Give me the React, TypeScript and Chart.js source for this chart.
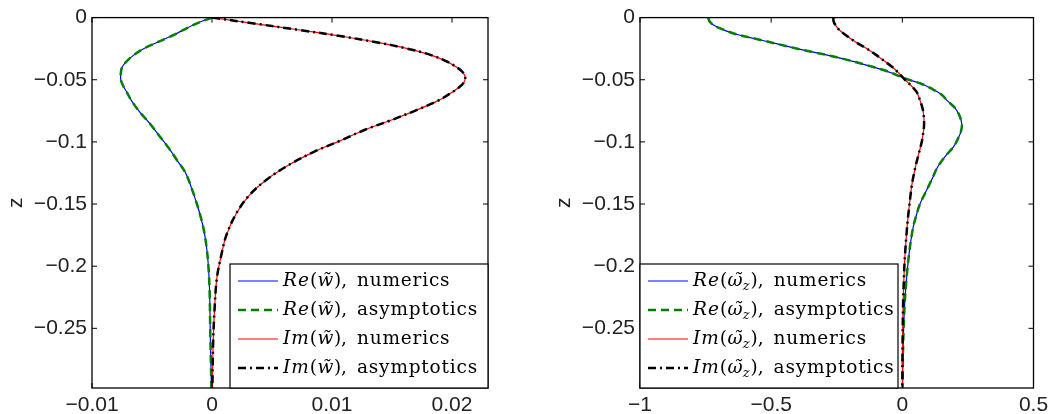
import React, { useEffect, useRef } from 'react';
import { Chart, registerables } from 'chart.js';

Chart.register(...registerables);

// ---------- Left panel: w~ ----------
const Z_W_RE = [0, -0.004, -0.009, -0.014, -0.02, -0.025, -0.03, -0.035, -0.04, -0.045, -0.05, -0.055, -0.06, -0.067, -0.075, -0.085, -0.095, -0.105, -0.115, -0.125, -0.14, -0.155, -0.17, -0.185, -0.2, -0.22, -0.25, -0.275, -0.298];
const W_RE = [0, -0.0011, -0.0022, -0.0032, -0.0046, -0.0057, -0.0065, -0.0071, -0.0075, -0.0076, -0.0076, -0.0074, -0.0071, -0.0067, -0.0061, -0.0052, -0.0044, -0.0036, -0.0029, -0.0022, -0.0016, -0.0011, -0.0007, -0.00045, -0.0003, -0.0002, -0.00015, -0.0001, -0.00005];
const Z_W_IM = [0, -0.005, -0.01, -0.015, -0.02, -0.025, -0.03, -0.035, -0.04, -0.044, -0.048, -0.052, -0.056, -0.062, -0.067, -0.075, -0.083, -0.09, -0.099, -0.108, -0.118, -0.13, -0.143, -0.158, -0.175, -0.19, -0.21, -0.237, -0.26, -0.298];
const W_IM = [0, 0.0037, 0.0073, 0.0108, 0.0138, 0.0163, 0.0182, 0.0195, 0.0204, 0.0209, 0.0211, 0.021, 0.0206, 0.0197, 0.0188, 0.0169, 0.0148, 0.0128, 0.0107, 0.0085, 0.0065, 0.0046, 0.0031, 0.002, 0.0012, 0.0008, 0.0004, 0.0002, 0.0001, 0.00003];

// ---------- Right panel: omega~_z ----------
const Z_OM_RE = [0, -0.003, -0.006, -0.009, -0.013, -0.017, -0.021, -0.026, -0.03, -0.034, -0.038, -0.042, -0.045, -0.049, -0.053, -0.057, -0.062, -0.067, -0.072, -0.078, -0.086, -0.092, -0.097, -0.104, -0.11, -0.12, -0.129, -0.14, -0.15, -0.16, -0.168, -0.18, -0.195, -0.21, -0.23, -0.25, -0.275, -0.298];
const OM_RE = [-0.74, -0.735, -0.72, -0.69, -0.64, -0.56, -0.48, -0.38, -0.29, -0.21, -0.14, -0.075, -0.035, 0.01, 0.07, 0.11, 0.15, 0.172, 0.198, 0.216, 0.227, 0.223, 0.213, 0.195, 0.17, 0.135, 0.115, 0.09, 0.067, 0.052, 0.042, 0.032, 0.023, 0.016, 0.009, 0.005, 0.002, 0.001];
const Z_OM_IM = [0, -0.003, -0.006, -0.01, -0.015, -0.02, -0.025, -0.03, -0.035, -0.04, -0.045, -0.05, -0.055, -0.06, -0.067, -0.073, -0.078, -0.084, -0.089, -0.095, -0.1, -0.11, -0.12, -0.135, -0.147, -0.16, -0.174, -0.195, -0.21, -0.23, -0.26, -0.298];
const OM_IM = [-0.263, -0.262, -0.255, -0.24, -0.21, -0.175, -0.135, -0.1, -0.068, -0.037, -0.012, 0.01, 0.035, 0.055, 0.068, 0.077, 0.081, 0.083, 0.082, 0.078, 0.074, 0.062, 0.05, 0.036, 0.029, 0.022, 0.016, 0.009, 0.006, 0.003, 0.001, 0];

// ---------- Axes ----------
const Y_MIN = -0.298;
const Y_MAX = 0;
const Y_TICKS = [0, -0.05, -0.1, -0.15, -0.2, -0.25];
const X_LEFT_RANGE = [-0.01, 0.023];
const X_TICKS_LEFT = [-0.01, 0, 0.01, 0.02];
const X_RIGHT_RANGE = [-1, 0.5];
const X_TICKS_RIGHT = [-1, -0.5, 0, 0.5];
const Y_TITLE = 'z';

// ---------- Legend labels ----------
type Seg = { t: string; it?: boolean; sub?: boolean; gap?: number; ls?: number };
const LEGEND_SUFFIX = ['numerics', 'asymptotics', 'numerics', 'asymptotics'];
const LEGEND_PREFIX = ['Re', 'Re', 'Im', 'Im'];

const SERIES_STYLE = [
  { color: '#0000ff', width: 1.2, dash: [] as number[], order: 4 },
  { color: '#008000', width: 2.5, dash: [8, 5], order: 3 },
  { color: '#ff0000', width: 1.2, dash: [] as number[], order: 2 },
  { color: '#000000', width: 2.5, dash: [8, 4, 2, 4], order: 1 },
];

const TICK_FONT = { family: '"Liberation Sans", Arial, sans-serif', size: 21 };
const TEXT_COLOR = '#222222';
const SERIF = '"DejaVu Serif", serif';

function fmt(v: number): string {
  if (v === 0) return '0';
  return (v < 0 ? '\u2212' : '') + String(Math.abs(v));
}

function pts(zs: number[], xs: number[]) {
  return zs.map((z, i) => ({ x: xs[i], y: z }));
}

function legendSegs(panel: 'w' | 'om', i: number): Seg[] {
  const segs: Seg[] = [{ t: LEGEND_PREFIX[i], it: true, gap: 1, ls: 1 }, { t: '(', gap: 0.5 }];
  if (panel === 'w') {
    segs.push({ t: 'w\u0303', it: true, gap: 0.5 });
  } else {
    segs.push({ t: '\u03C9\u0303', it: true, gap: 0 });
    segs.push({ t: 'z', it: true, sub: true, gap: 1 });
  }
  segs.push({ t: ')', gap: 0 });
  segs.push({ t: ',', gap: 10 });
  segs.push({ t: LEGEND_SUFFIX[i], gap: 0, ls: 0.8 });
  return segs;
}

function makeDecor(panel: 'w' | 'om', legendAlign: 'left' | 'right', zX: number) {
  return {
    id: 'decor_' + panel,
    afterDraw(chart: any) {
      const { ctx, chartArea: a, scales } = chart;
      ctx.save();
      // frame
      ctx.strokeStyle = '#000';
      ctx.lineWidth = 1.3;
      ctx.setLineDash([]);
      ctx.strokeRect(a.left, a.top, a.right - a.left, a.bottom - a.top);
      // inward ticks
      ctx.lineWidth = 1;
      const tl = 5;
      const xt = panel === 'w' ? X_TICKS_LEFT : X_TICKS_RIGHT;
      ctx.beginPath();
      xt.forEach((v) => {
        const px = scales.x.getPixelForValue(v);
        ctx.moveTo(px, a.bottom);
        ctx.lineTo(px, a.bottom - tl);
        ctx.moveTo(px, a.top);
        ctx.lineTo(px, a.top + tl);
      });
      Y_TICKS.forEach((v) => {
        const py = scales.y.getPixelForValue(v);
        ctx.moveTo(a.left, py);
        ctx.lineTo(a.left + tl, py);
        ctx.moveTo(a.right, py);
        ctx.lineTo(a.right - tl, py);
      });
      ctx.stroke();

      // legend box
      const bw = 258;
      const bh = 124;
      const bx = legendAlign === 'right' ? a.right - bw : a.left;
      const by = a.bottom - bh;
      ctx.fillStyle = '#ffffff';
      ctx.fillRect(bx, by, bw, bh);
      ctx.strokeStyle = '#000';
      ctx.lineWidth = 1.2;
      ctx.strokeRect(bx, by, bw, bh);

      const rows = [17, 46, 75, 104];
      rows.forEach((ry, i) => {
        const y = by + ry;
        const st = SERIES_STYLE[i];
        ctx.beginPath();
        ctx.strokeStyle = st.color;
        ctx.lineWidth = st.width;
        ctx.setLineDash(st.dash);
        ctx.moveTo(bx + 8, y);
        ctx.lineTo(bx + 48, y);
        ctx.stroke();
        ctx.setLineDash([]);
        // text
        let x = bx + 53;
        const base = y + 5;
        ctx.fillStyle = '#000';
        ctx.textBaseline = 'alphabetic';
        ctx.textAlign = 'left';
        legendSegs(panel, i).forEach((s) => {
          const size = s.sub ? 13 : 18.5;
          ctx.font = (s.it ? 'italic ' : '') + size + 'px ' + SERIF;
          const yy = s.sub ? base + 4 : base;
          const ls = s.ls || 0;
          if (ls) {
            for (const ch of Array.from(s.t)) {
              ctx.fillText(ch, x, yy);
              x += ctx.measureText(ch).width + ls;
            }
            x -= ls;
          } else {
            ctx.fillText(s.t, x, yy);
            x += ctx.measureText(s.t).width;
          }
          x += s.gap || 0;
        });
      });

      // z label
      ctx.save();
      ctx.translate(zX, (a.top + a.bottom) / 2);
      ctx.rotate(-Math.PI / 2);
      ctx.fillStyle = TEXT_COLOR;
      ctx.font = '21px ' + TICK_FONT.family;
      ctx.textAlign = 'center';
      ctx.textBaseline = 'middle';
      ctx.fillText(Y_TITLE, 0, 0);
      ctx.restore();

      ctx.restore();
    },
  };
}

function buildConfig(panel: 'w' | 'om') {
  const isW = panel === 'w';
  const series = isW
    ? [pts(Z_W_RE, W_RE), pts(Z_W_RE, W_RE), pts(Z_W_IM, W_IM), pts(Z_W_IM, W_IM)]
    : [pts(Z_OM_RE, OM_RE), pts(Z_OM_RE, OM_RE), pts(Z_OM_IM, OM_IM), pts(Z_OM_IM, OM_IM)];
  const names = isW
    ? ['Re(w), numerics', 'Re(w), asymptotics', 'Im(w), numerics', 'Im(w), asymptotics']
    : ['Re(ω_z), numerics', 'Re(ω_z), asymptotics', 'Im(ω_z), numerics', 'Im(ω_z), asymptotics'];
  const xr = isW ? X_LEFT_RANGE : X_RIGHT_RANGE;
  const xt = isW ? X_TICKS_LEFT : X_TICKS_RIGHT;
  const yWidth = isW ? 92 : 100;
  const padRight = isW ? 52 : 20.5;
  return {
    type: 'scatter' as const,
    data: {
      datasets: series.map((d, i) => ({
        label: names[i],
        data: d,
        showLine: true,
        borderColor: SERIES_STYLE[i].color,
        backgroundColor: SERIES_STYLE[i].color,
        borderWidth: SERIES_STYLE[i].width,
        borderDash: SERIES_STYLE[i].dash,
        order: SERIES_STYLE[i].order,
        pointRadius: 0,
        pointHoverRadius: 0,
        tension: 0.35,
        fill: false,
      })),
    },
    options: {
      responsive: false,
      animation: false as const,
      devicePixelRatio: 1,
      events: [],
      layout: { padding: { left: 0, top: 16, right: padRight, bottom: 0 } },
      plugins: { legend: { display: false }, tooltip: { enabled: false } },
      scales: {
        x: {
          type: 'linear' as const,
          min: xr[0],
          max: xr[1],
          afterBuildTicks: (s: any) => {
            s.ticks = xt.map((v) => ({ value: v }));
          },
          afterFit: (s: any) => {
            s.height = 26;
          },
          grid: { display: false, drawTicks: false },
          border: { display: false },
          ticks: {
            font: TICK_FONT,
            color: TEXT_COLOR,
            padding: 5,
            maxRotation: 0,
            autoSkip: false,
            callback: (v: any) => fmt(Number(v)),
          },
        },
        y: {
          type: 'linear' as const,
          min: Y_MIN,
          max: Y_MAX,
          afterBuildTicks: (s: any) => {
            s.ticks = Y_TICKS.map((v) => ({ value: v }));
          },
          afterFit: (s: any) => {
            s.width = yWidth;
          },
          grid: { display: false, drawTicks: false },
          border: { display: false },
          ticks: {
            font: TICK_FONT,
            color: TEXT_COLOR,
            padding: 5,
            autoSkip: false,
            callback: (v: any) => fmt(Number(v)),
          },
        },
      },
    },
    plugins: [makeDecor(panel, isW ? 'right' : 'left', isW ? 16 : 24)],
  };
}

export default function App() {
  const leftRef = useRef<HTMLCanvasElement>(null);
  const rightRef = useRef<HTMLCanvasElement>(null);

  useEffect(() => {
    const charts: Chart[] = [];
    if (leftRef.current) charts.push(new Chart(leftRef.current, buildConfig('w') as any));
    if (rightRef.current) charts.push(new Chart(rightRef.current, buildConfig('om') as any));
    return () => {
      charts.forEach((c) => c.destroy());
    };
  }, []);

  return (
    <div style={{ position: 'absolute', left: 0, top: 0, width: 1054, height: 414, background: '#fff' }}>
      <canvas
        ref={leftRef}
        width={540}
        height={414}
        style={{ position: 'absolute', left: 0, top: 0, width: 540, height: 414 }}
      />
      <canvas
        ref={rightRef}
        width={514}
        height={414}
        style={{ position: 'absolute', left: 540, top: 0, width: 514, height: 414 }}
      />
    </div>
  );
}
